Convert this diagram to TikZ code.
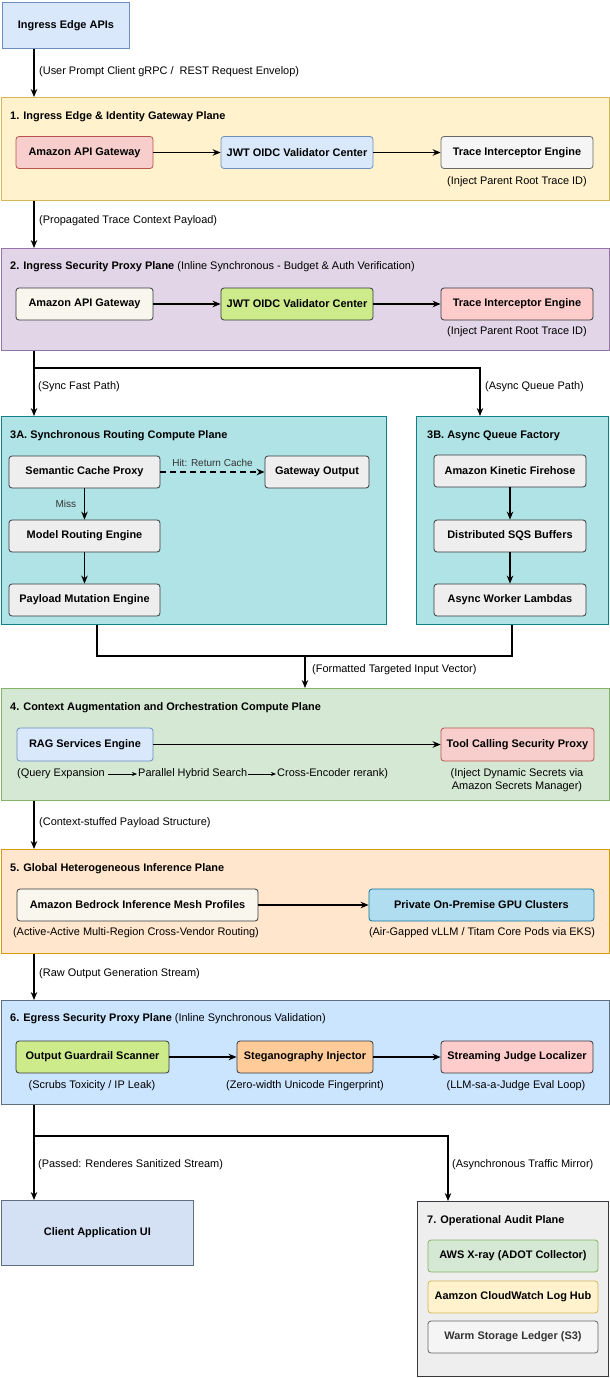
\documentclass[tikz,border=0pt,11pt]{standalone}
\usepackage{fontspec}
\setmainfont{Liberation Sans}
\usetikzlibrary{arrows.meta}
\definecolor{blueF}{HTML}{DAE8FC}
\definecolor{blueL}{HTML}{6C8EBF}
\definecolor{yellowF}{HTML}{FFF2CC}
\definecolor{yellowL}{HTML}{D6B656}
\definecolor{redF}{HTML}{F8CECC}
\definecolor{redL}{HTML}{B85450}
\definecolor{grayF}{HTML}{F5F5F5}
\definecolor{grayL}{HTML}{666666}
\definecolor{purpleF}{HTML}{E1D5E7}
\definecolor{purpleL}{HTML}{9673A6}
\definecolor{creamF}{HTML}{F9F7ED}
\definecolor{darkL}{HTML}{36393D}
\definecolor{limeF}{HTML}{CDEB8B}
\definecolor{pinkF}{HTML}{FFCCCC}
\definecolor{tealF}{HTML}{B0E3E6}
\definecolor{tealL}{HTML}{0E8088}
\definecolor{ashF}{HTML}{EEEEEE}
\definecolor{greenF}{HTML}{D5E8D4}
\definecolor{greenL}{HTML}{82B366}
\definecolor{orangeF}{HTML}{FFE6CC}
\definecolor{orangeL}{HTML}{D79B00}
\definecolor{skyF}{HTML}{B1DDF0}
\definecolor{skyL}{HTML}{10739E}
\definecolor{iceF}{HTML}{CCE5FF}
\definecolor{iceL}{HTML}{5F6F80}
\definecolor{peachF}{HTML}{FFCC99}
\definecolor{clientF}{HTML}{D4E1F5}
\definecolor{hintC}{HTML}{333333}
\begin{document}
\begin{tikzpicture}[x=1pt,y=-1pt,
	box/.style={rounded corners=3pt,line width=0.8pt,minimum height=32pt,inner sep=1pt,font=\bfseries},
	plane/.style={line width=0.8pt,anchor=north west,inner sep=0pt},
	ttl/.style={anchor=west,inner sep=0pt,font=\bfseries},
	captxt/.style={inner sep=0pt},
	lbl/.style={anchor=west,inner sep=0pt},
	flow/.style={-{Stealth[length=8pt,width=6.5pt]},line width=1.3pt},
	bluebox/.style={fill=blueF,draw=blueL},
	yellowbox/.style={fill=yellowF,draw=yellowL},
	redbox/.style={fill=redF,draw=redL},
	graybox/.style={fill=grayF,draw=grayL},
	purplebox/.style={fill=purpleF,draw=purpleL},
	creambox/.style={fill=creamF,draw=darkL},
	limebox/.style={fill=limeF,draw=darkL},
	pinkbox/.style={fill=pinkF,draw=darkL},
	tealbox/.style={fill=tealF,draw=tealL},
	ashbox/.style={fill=ashF,draw=darkL},
	greenbox/.style={fill=greenF,draw=greenL},
	orangebox/.style={fill=orangeF,draw=orangeL},
	skybox/.style={fill=skyF,draw=skyL},
	icebox/.style={fill=iceF,draw=iceL},
	peachbox/.style={fill=peachF,draw=darkL},
	clientbox/.style={fill=clientF,draw=iceL}]
	\useasboundingbox (0,0) rectangle (610,1378);
	\coordinate (spine) at (34,0);

	\node[plane,bluebox,minimum width=127pt,minimum height=46pt] (in0) at (2,2) {};
	\node[font=\bfseries] (in0t) at (in0.center) {Ingress Edge APIs};
	\node[lbl] (l0) at (39,72) {(User Prompt Client gRPC /\ \ REST Request Envelop)};

	% 1
	\node[plane,yellowbox,minimum width=608pt,minimum height=103pt] (p1) at (1,97) {};
	\node[ttl] (t1) at (10,117) {1. Ingress Edge \& Identity Gateway Plane};
	\node[box,redbox,minimum width=137pt] (gw1) at (84.5,152.5) {Amazon API Gateway};
	\node[box,bluebox,minimum width=152pt] (jwt1) at (297,152.5) {JWT OIDC Validator Center};
	\node[box,graybox,minimum width=152pt] (tr1) at (517,152.5) {Trace Interceptor Engine};
	\node[captxt] (c1) at (517,182) {(Inject Parent Root Trace ID)};
	\node[lbl] (l1) at (39,221) {(Propagated Trace Context Payload)};

	% 2
	\node[plane,purplebox,minimum width=608pt,minimum height=102pt] (p2) at (1,248) {};
	\node[ttl] (t2) at (10,267) {\textbf{2. Ingress Security Proxy Plane} \mdseries(Inline Synchronous - Budget \& Auth Verification)};
	\node[box,creambox,minimum width=137pt] (gw2) at (84.5,304) {Amazon API Gateway};
	\node[box,limebox,minimum width=152pt] (jwt2) at (297,304) {JWT OIDC Validator Center};
	\node[box,pinkbox,minimum width=152pt] (tr2) at (517,304) {Trace Interceptor Engine};
	\node[captxt] (c2) at (517,332) {(Inject Parent Root Trace ID)};
	\node[lbl] (l2a) at (38,387) {(Sync Fast Path)};
	\node[lbl] (l2b) at (485,387) {(Async Queue Path)};

	% 3A / 3B
	\node[plane,tealbox,minimum width=385pt,minimum height=208pt] (p3a) at (1,416) {};
	\node[plane,tealbox,minimum width=192pt,minimum height=208pt] (p3b) at (416,416) {};
	\node[ttl] (t3a) at (10,436) {3A. Synchronous Routing Compute Plane};
	\node[ttl] (t3b) at (427,436) {3B. Async Queue Factory};
	\node[box,ashbox,minimum width=151pt] (cache) at (84.5,472) {Semantic Cache Proxy};
	\node[box,ashbox,minimum width=151pt] (route) at (84.5,536) {Model Routing Engine};
	\node[box,ashbox,minimum width=151pt] (mutate) at (84.5,600) {Payload Mutation Engine};
	\node[box,ashbox,minimum width=104pt] (gwout) at (317,472) {Gateway Output};
	\node[box,ashbox,minimum width=152pt] (hose) at (510,471) {Amazon Kinetic Firehose};
	\node[box,ashbox,minimum width=152pt] (sqs) at (510,536) {Distributed SQS Buffers};
	\node[box,ashbox,minimum width=152pt] (lambda) at (510,600) {Async Worker Lambdas};
	\node[lbl] (l3) at (312,670) {(Formatted Targeted Input Vector)};

	% 4
	\node[plane,greenbox,minimum width=608pt,minimum height=112pt] (p4) at (1,688) {};
	\node[ttl] (t4) at (10,708) {4. Context Augmentation and Orchestration Compute Plane};
	\node[box,bluebox,minimum width=136pt,minimum height=33pt] (rag) at (85,744.5) {RAG Services Engine};
	\node[box,redbox,minimum width=153pt,minimum height=33pt] (tool) at (517.5,744.5) {Tool Calling Security Proxy};
	\node[lbl] (q1) at (17,774) {(Query Expansion};
	\node[lbl] (q2) at (138,774) {Parallel Hybrid Search};
	\node[lbl] (q3) at (277,774) {Cross-Encoder rerank)};
	\node[captxt,align=center] (c4) at (517,780) {(Inject Dynamic Secrets via\\Amazon Secrets Manager)};
	\node[lbl] (l4) at (39,823) {(Context-stuffed Payload Structure)};

	% 5
	\node[plane,orangebox,minimum width=608pt,minimum height=104pt] (p5) at (1,849) {};
	\node[ttl] (t5) at (10,869) {5. Global Heterogeneous Inference Plane};
	\node[box,creambox,minimum width=241pt] (bed) at (137.5,905) {Amazon Bedrock Inference Mesh Profiles};
	\node[box,skybox,minimum width=225pt] (gpu) at (481.5,905) {Private On-Premise GPU Clusters};
	\node[captxt] (c5a) at (136,933) {(Active-Active Multi-Region Cross-Vendor Routing)};
	\node[captxt] (c5b) at (482,933) {(Air-Gapped vLLM / Titam Core Pods via EKS)};
	\node[lbl] (l5) at (39,974) {(Raw Output Generation Stream)};

	% 6
	\node[plane,icebox,minimum width=608pt,minimum height=104pt] (p6) at (1,1000) {};
	\node[ttl] (t6) at (10,1019) {\textbf{6. Egress Security Proxy Plane} \mdseries(Inline Synchronous Validation)};
	\node[box,limebox,minimum width=153pt] (guard) at (92.5,1057) {Output Guardrail Scanner};
	\node[box,peachbox,minimum width=136pt] (steg) at (305,1057) {Steganography Injector};
	\node[box,pinkbox,minimum width=152pt] (judge) at (517,1057) {Streaming Judge Localizer};
	\node[captxt] (c6a) at (92,1086) {(Scrubs Toxicity / IP Leak)};
	\node[captxt] (c6b) at (305,1086) {(Zero-width Unicode Fingerprint)};
	\node[captxt] (c6c) at (516,1086) {(LLM-sa-a-Judge Eval Loop)};
	\node[lbl] (l6a) at (38,1165) {(Passed: Renderes Sanitized Stream)};
	\node[lbl] (l6b) at (452,1165) {(Asynchronous Traffic Mirror)};

	% client / 7
	\node[plane,clientbox,minimum width=192pt,minimum height=65pt] (client) at (1,1200) {};
	\node[font=\bfseries] (clientt) at (client.center) {Client Application UI};
	\node[plane,ashbox,minimum width=191pt,minimum height=175pt] (p7) at (417,1201) {};
	\node[ttl] (t7) at (427,1221) {7. Operational Audit Plane};
	\node[box,greenbox,minimum width=170pt] (xray) at (513,1256) {AWS X-ray (ADOT Collector)};
	\node[box,yellowbox,minimum width=170pt] (cw) at (513,1297) {Aamzon CloudWatch Log Hub};
	\node[box,graybox,minimum width=170pt,text=hintC] (s3) at (513,1337) {Warm Storage Ledger (S3)};

	% connectors
	\draw[flow] (in0.south -| spine) -- (p1.north -| spine);
	\draw[flow] (gw1) -- (jwt1);
	\draw[flow] (jwt1) -- (tr1);
	\draw[flow] (p1.south -| spine) -- (p2.north -| spine);
	\draw[flow] (gw2) -- (jwt2);
	\draw[flow] (jwt2) -- (tr2);
	\coordinate (fork1) at (34,368);
	\coordinate (qx) at (480,0);
	\draw[flow] (p2.south -| spine) -- (p3a.north -| spine);
	\draw[flow] (fork1) -| (p3b.north -| qx);
	\draw[flow,dash pattern=on 6pt off 4pt] (cache) -- node[above=1pt,font=\small,text=hintC] (hit) {Hit: Return Cache} (gwout);
	\draw[flow] (cache) -- node[left=4pt,font=\small,text=hintC] (miss) {Miss} (route);
	\draw[flow] (route) -- (mutate);
	\draw[flow] (hose) -- (sqs);
	\draw[flow] (sqs) -- (lambda);
	\coordinate (ja) at (97,656);
	\coordinate (jb) at (512,656);
	\coordinate (join) at (305,656);
	\draw[line width=1.3pt] (p3a.south -| ja) -- (ja) -- (jb) -- (p3b.south -| jb);
	\draw[flow] (join) -- (p4.north -| join);
	\draw[flow] (rag) -- (tool);
	\draw[-{Stealth[length=5pt,width=4pt]},line width=0.7pt] ([xshift=3pt]q1.east) -- ([xshift=-1pt]q2.west);
	\draw[-{Stealth[length=5pt,width=4pt]},line width=0.7pt] ([xshift=1pt]q2.east) -- ([xshift=-1pt]q3.west);
	\draw[flow] (p4.south -| spine) -- (p5.north -| spine);
	\draw[flow] (bed) -- (gpu);
	\draw[flow] (p5.south -| spine) -- (p6.north -| spine);
	\draw[flow] (guard) -- (steg);
	\draw[flow] (steg) -- (judge);
	\coordinate (fork2) at (34,1136);
	\coordinate (mx) at (448,0);
	\draw[flow] (p6.south -| spine) -- (client.north -| spine);
	\draw[flow] (fork2) -| (p7.north -| mx);
\end{tikzpicture}
\end{document}
